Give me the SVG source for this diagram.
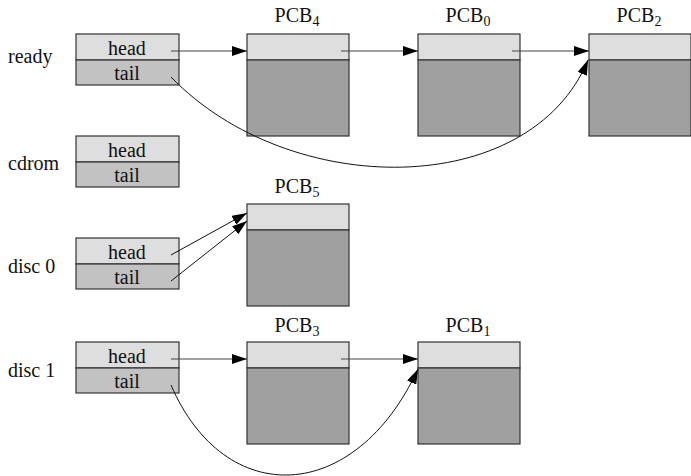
<svg xmlns="http://www.w3.org/2000/svg" width="691" height="476" viewBox="0 0 691 476">
  <style>
    text { font-family: "Liberation Serif", "Times New Roman", serif; font-size: 20px; fill: #111; }
    .c { text-anchor: middle; }
    .sub { font-size: 14px; }
    .light { fill: #dedede; stroke: #333; stroke-width: 1.2; }
    .mid { fill: #c2c2c2; stroke: #333; stroke-width: 1.2; }
    .dark { fill: #a0a0a0; stroke: #333; stroke-width: 1.2; }
    .ptr { fill: none; stroke: #444; stroke-width: 1.1; marker-end: url(#arrow); }
    .curve { fill: none; stroke: #111; stroke-width: 1; marker-end: url(#arrow); }
  </style>
  <defs>
    <marker id="arrow" markerUnits="userSpaceOnUse" markerWidth="15" markerHeight="10" refX="15" refY="5" orient="auto">
      <path d="M0,0 L15,5 L0,10 z" fill="#000"/>
    </marker>
  </defs>

  <rect width="691" height="476" fill="#fff"/>

  <!-- queue headers -->
  <g id="q-ready">
    <text x="8" y="63">ready</text>
    <rect class="light" x="76" y="34" width="103" height="26"/>
    <rect class="mid" x="76" y="60" width="103" height="25"/>
    <text class="c" x="127" y="54.5">head</text>
    <text class="c" x="127" y="79.5">tail</text>
  </g>
  <g id="q-cdrom">
    <text x="8" y="170">cdrom</text>
    <rect class="light" x="76" y="136" width="103" height="26"/>
    <rect class="mid" x="76" y="162" width="103" height="25"/>
    <text class="c" x="127" y="156.5">head</text>
    <text class="c" x="127" y="181.5">tail</text>
  </g>
  <g id="q-disc0">
    <text x="8" y="273">disc 0</text>
    <rect class="light" x="76" y="238" width="103" height="26"/>
    <rect class="mid" x="76" y="264" width="103" height="25"/>
    <text class="c" x="127" y="258.5">head</text>
    <text class="c" x="127" y="283.5">tail</text>
  </g>
  <g id="q-disc1">
    <text x="8" y="377">disc 1</text>
    <rect class="light" x="76" y="342" width="103" height="26"/>
    <rect class="mid" x="76" y="368" width="103" height="25"/>
    <text class="c" x="127" y="362.5">head</text>
    <text class="c" x="127" y="387.5">tail</text>
  </g>

  <!-- process control blocks -->
  <g id="pcb4">
    <text class="c" x="297" y="22">PCB<tspan class="sub" dy="4">4</tspan></text>
    <rect class="light" x="247" y="34" width="102" height="26"/>
    <rect class="dark" x="247" y="60" width="102" height="76"/>
  </g>
  <g id="pcb0">
    <text class="c" x="468" y="22">PCB<tspan class="sub" dy="4">0</tspan></text>
    <rect class="light" x="418" y="34" width="102" height="26"/>
    <rect class="dark" x="418" y="60" width="102" height="76"/>
  </g>
  <g id="pcb2">
    <text class="c" x="639" y="22">PCB<tspan class="sub" dy="4">2</tspan></text>
    <rect class="light" x="589" y="34" width="102" height="26"/>
    <rect class="dark" x="589" y="60" width="102" height="76"/>
  </g>
  <g id="pcb5">
    <text class="c" x="297" y="193">PCB<tspan class="sub" dy="4">5</tspan></text>
    <rect class="light" x="247" y="204" width="102" height="26"/>
    <rect class="dark" x="247" y="230" width="102" height="76"/>
  </g>
  <g id="pcb3">
    <text class="c" x="297" y="332">PCB<tspan class="sub" dy="4">3</tspan></text>
    <rect class="light" x="247" y="342" width="102" height="26"/>
    <rect class="dark" x="247" y="368" width="102" height="76"/>
  </g>
  <g id="pcb1">
    <text class="c" x="468" y="332">PCB<tspan class="sub" dy="4">1</tspan></text>
    <rect class="light" x="418" y="342" width="102" height="26"/>
    <rect class="dark" x="418" y="368" width="102" height="76"/>
  </g>

  <!-- links -->
  <g id="connectors">
    <path class="ptr" d="M171,51 H247"/>
    <path class="ptr" d="M341,51 H418"/>
    <path class="ptr" d="M512,51 H589"/>
    <path class="curve" d="M171,77 C290,200 530,200 588,60"/>

    <path class="curve" d="M171,255 L247,213"/>
    <path class="curve" d="M171,281 L247,221"/>

    <path class="ptr" d="M171,359 H247"/>
    <path class="ptr" d="M341,359 H418"/>
    <path class="curve" d="M171,385 C225,510 355,505 418,369"/>
  </g>
</svg>
